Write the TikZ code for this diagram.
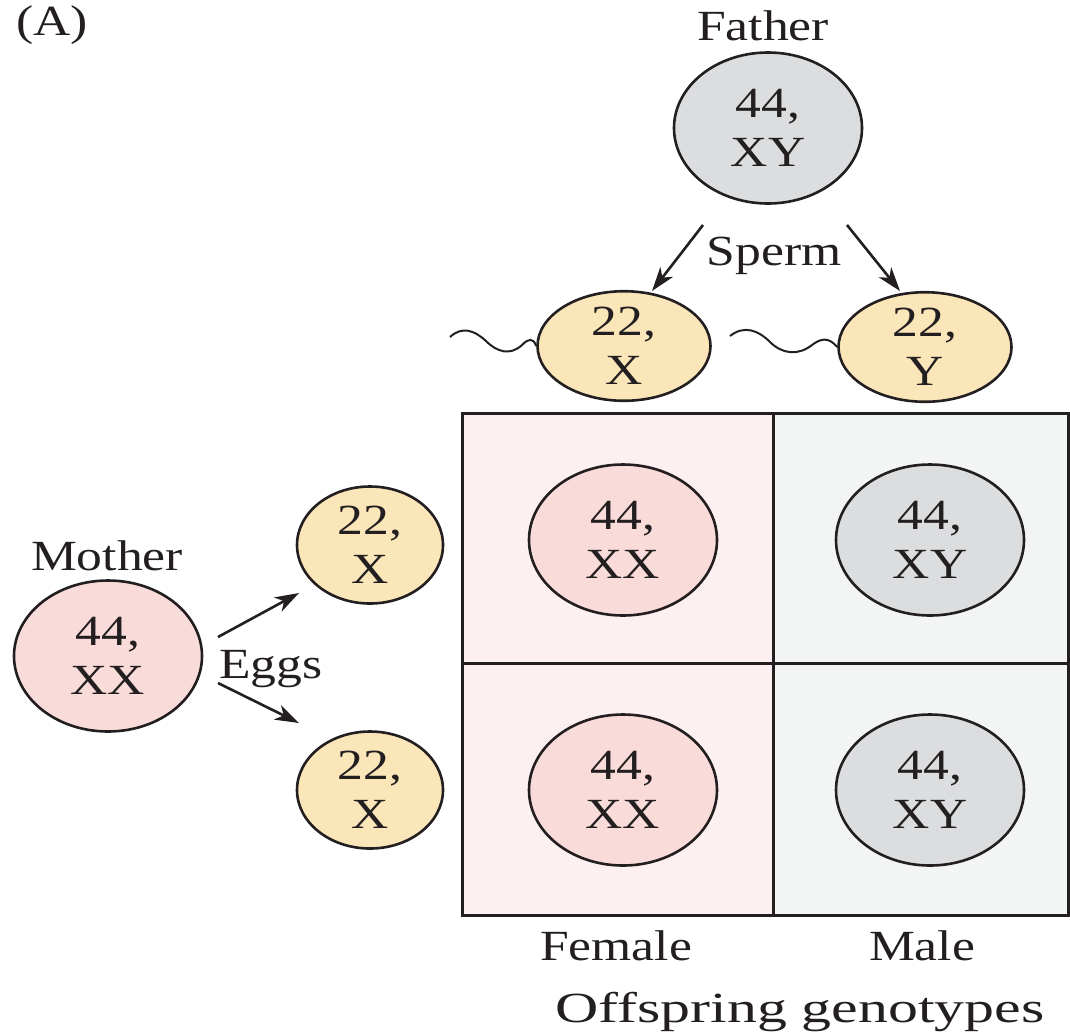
\documentclass[tikz,border=0pt]{standalone}
\usepackage{fontspec}
\setmainfont{Liberation Serif}[FakeStretch=1.2]
\usetikzlibrary{shapes.geometric,arrows.meta}
\definecolor{ink}{HTML}{231F20}
\definecolor{pinkfill}{HTML}{F9DCDA}
\definecolor{pinkbg}{HTML}{FDF0F0}
\definecolor{greyfill}{HTML}{DCDDDF}
\definecolor{greybg}{HTML}{F3F5F5}
\definecolor{yellowfill}{HTML}{FBE6BA}
\tikzset{
  cell/.style={ellipse, draw=ink, line width=2.6pt, inner sep=0pt, align=center, text=ink,
    font=\fontsize{43}{49}\selectfont},
  bigcell/.style={cell, minimum width=188pt, minimum height=151pt},
  female/.style={bigcell, fill=pinkfill},
  male/.style={bigcell, fill=greyfill},
  sperm/.style={cell, fill=yellowfill, minimum width=173pt, minimum height=95pt},
  egg/.style={cell, fill=yellowfill, minimum width=146pt, minimum height=117pt},
  lbl/.style={text=ink, anchor=base, inner sep=0pt, font=\fontsize{43}{49}\selectfont},
  arr/.style={draw=ink, line width=2.6pt, -{Stealth[length=24pt,width=16pt,inset=7pt]}},
  tail/.style={draw=ink, line width=2pt},
  grid/.style={draw=ink, line width=3pt}
}
\begin{document}
\begin{tikzpicture}[x=1pt,y=-1pt]
\useasboundingbox (0,0) rectangle (1070,1034);
% Punnett square backgrounds
\fill[pinkbg] (462,413) rectangle (773,915);
\fill[greybg] (773,413) rectangle (1068,915);
\draw[grid] (462,413) rectangle (1068,915);
\draw[grid] (773,413) -- (773,915);
\draw[grid] (462,663) -- (1068,663);

% labels
\node[lbl, anchor=base west] (lblA) at (16,35) {(A)};
\node[lbl] (lblFather) at (763,40) {Father};
\node[lbl] (lblSperm) at (774,265) {Sperm};
\node[lbl] (lblMother) at (107,570) {Mother};
\node[lbl, anchor=base west] (lblEggs) at (219,678) {Eggs};
\node[lbl] (lblFemale) at (616,960) {Female};
\node[lbl] (lblMale) at (922,960) {Male};
\node[lbl] (lblOff) at (800,1022) {\scalebox{1.16}[1]{Offspring genotypes}};

% parents
\node[male] (father) at (768,128) {44,\\XY};
\node[female] (mother) at (108,656) {44,\\XX};

% gametes
\node[sperm] (spermX) at (624,346) {22,\\X};
\node[sperm] (spermY) at (925,347) {22,\\Y};
\node[egg] (egg1) at (370,545) {22,\\X};
\node[egg] (egg2) at (370,790) {22,\\X};

% offspring
\node[female] (o11) at (623,540) {44,\\XX};
\node[male] (o12) at (930,540) {44,\\XY};
\node[female] (o21) at (623,790) {44,\\XX};
\node[male] (o22) at (930,790) {44,\\XY};

% arrows
\coordinate (fa1) at (703,225);
\coordinate (fa1t) at (652,291);
\coordinate (fa2) at (847,225);
\coordinate (fa2t) at (900,291);
\coordinate (ma1) at (218,637);
\coordinate (ma1t) at (299,593);
\coordinate (ma2) at (218,683);
\coordinate (ma2t) at (299,723);
\draw[arr] (fa1) -- (fa1t);
\draw[arr] (fa2) -- (fa2t);
\draw[arr] (ma1) -- (ma1t);
\draw[arr] (ma2) -- (ma2t);

% sperm tails
\coordinate (tx) at (450,337);
\coordinate (ty) at (730,336);
\draw[tail] (tx) .. controls (462,326) and (474,330) .. (486,341)
  .. controls (497,352) and (510,356) .. (522,345)
  .. controls (528,339) and (533,337) .. (spermX.west);
\draw[tail] (ty) .. controls (744,325) and (758,330) .. (770,342)
  .. controls (782,354) and (798,356) .. (812,345)
  .. controls (820,339) and (828,336) .. (spermY.west);
\end{tikzpicture}
\end{document}
